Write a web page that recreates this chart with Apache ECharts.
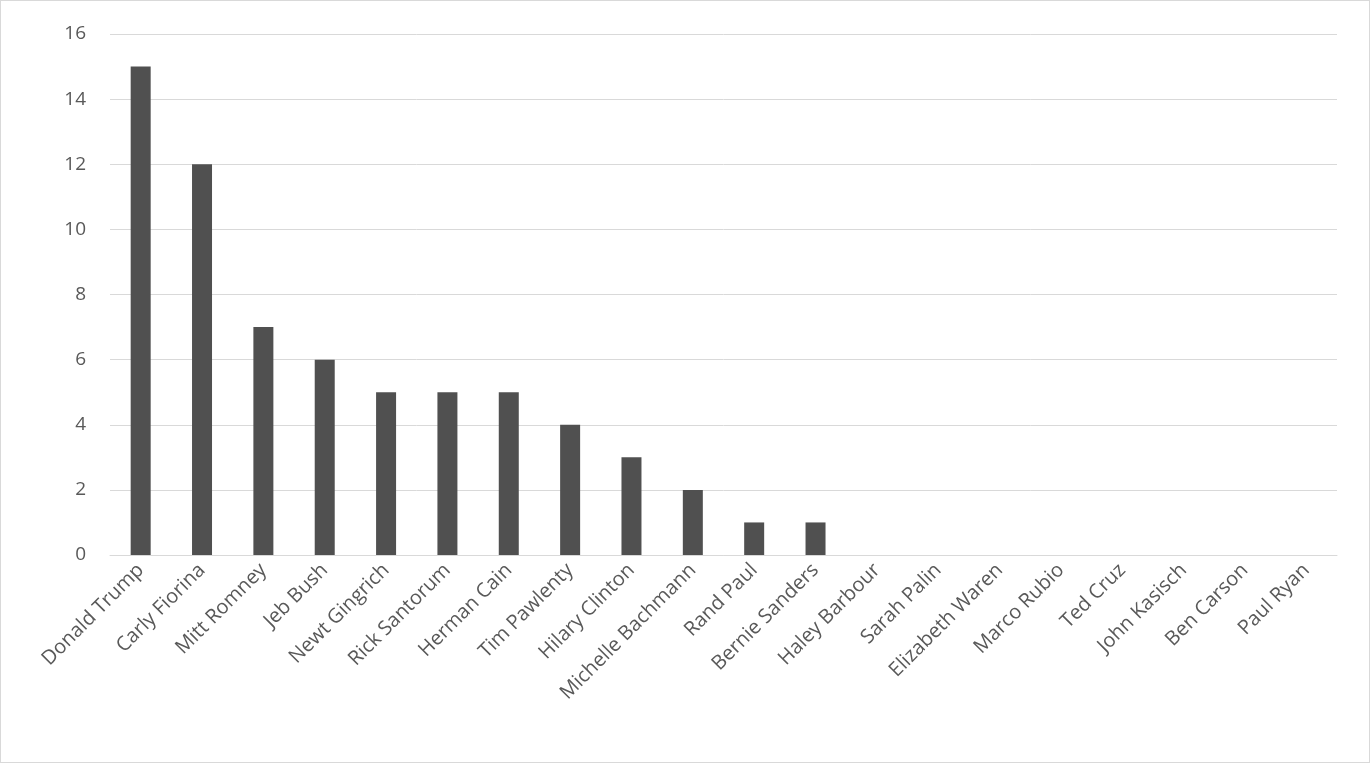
<!DOCTYPE html>
<html><head><meta charset="utf-8">
<script src="https://cdn.jsdelivr.net/npm/echarts@6/dist/echarts.min.js"></script>
<style>html,body{margin:0;padding:0;background:#fff}#c{width:1370px;height:763px;box-sizing:border-box;border:1px solid #d9d9d9}</style>
</head><body><div id="c"></div>
<script>
const categories = ["Donald Trump","Carly Fiorina","Mitt Romney","Jeb Bush","Newt Gingrich","Rick Santorum","Herman Cain","Tim Pawlenty","Hilary Clinton","Michelle Bachmann","Rand Paul","Bernie Sanders","Haley Barbour","Sarah Palin","Elizabeth Waren","Marco Rubio","Ted Cruz","John Kasisch","Ben Carson","Paul Ryan"];
const values = [15,12,7,6,5,5,5,4,3,2,1,1,0,0,0,0,0,0,0,0];
const chart = echarts.init(document.getElementById('c'));
chart.setOption({
  animation:false,
  grid:{left:109,right:32,top:33,bottom:207},
  xAxis:{type:'category',data:categories,
    axisLine:{lineStyle:{color:'#d9d9d9'}},axisTick:{show:false},
    axisLabel:{rotate:45,interval:0,color:'#595959',fontSize:20,fontFamily:'"Open Sans", sans-serif',margin:12}},
  yAxis:{type:'value',min:0,max:16,interval:2,
    axisLine:{show:false},axisTick:{show:false},
    splitLine:{lineStyle:{color:'#d9d9d9',width:1}},
    axisLabel:{color:'#595959',fontSize:19,fontFamily:'"Open Sans", sans-serif',margin:24}},
  series:[{type:'bar',data:values,barWidth:20,itemStyle:{color:'#505050'}}]
});
</script></body></html>
